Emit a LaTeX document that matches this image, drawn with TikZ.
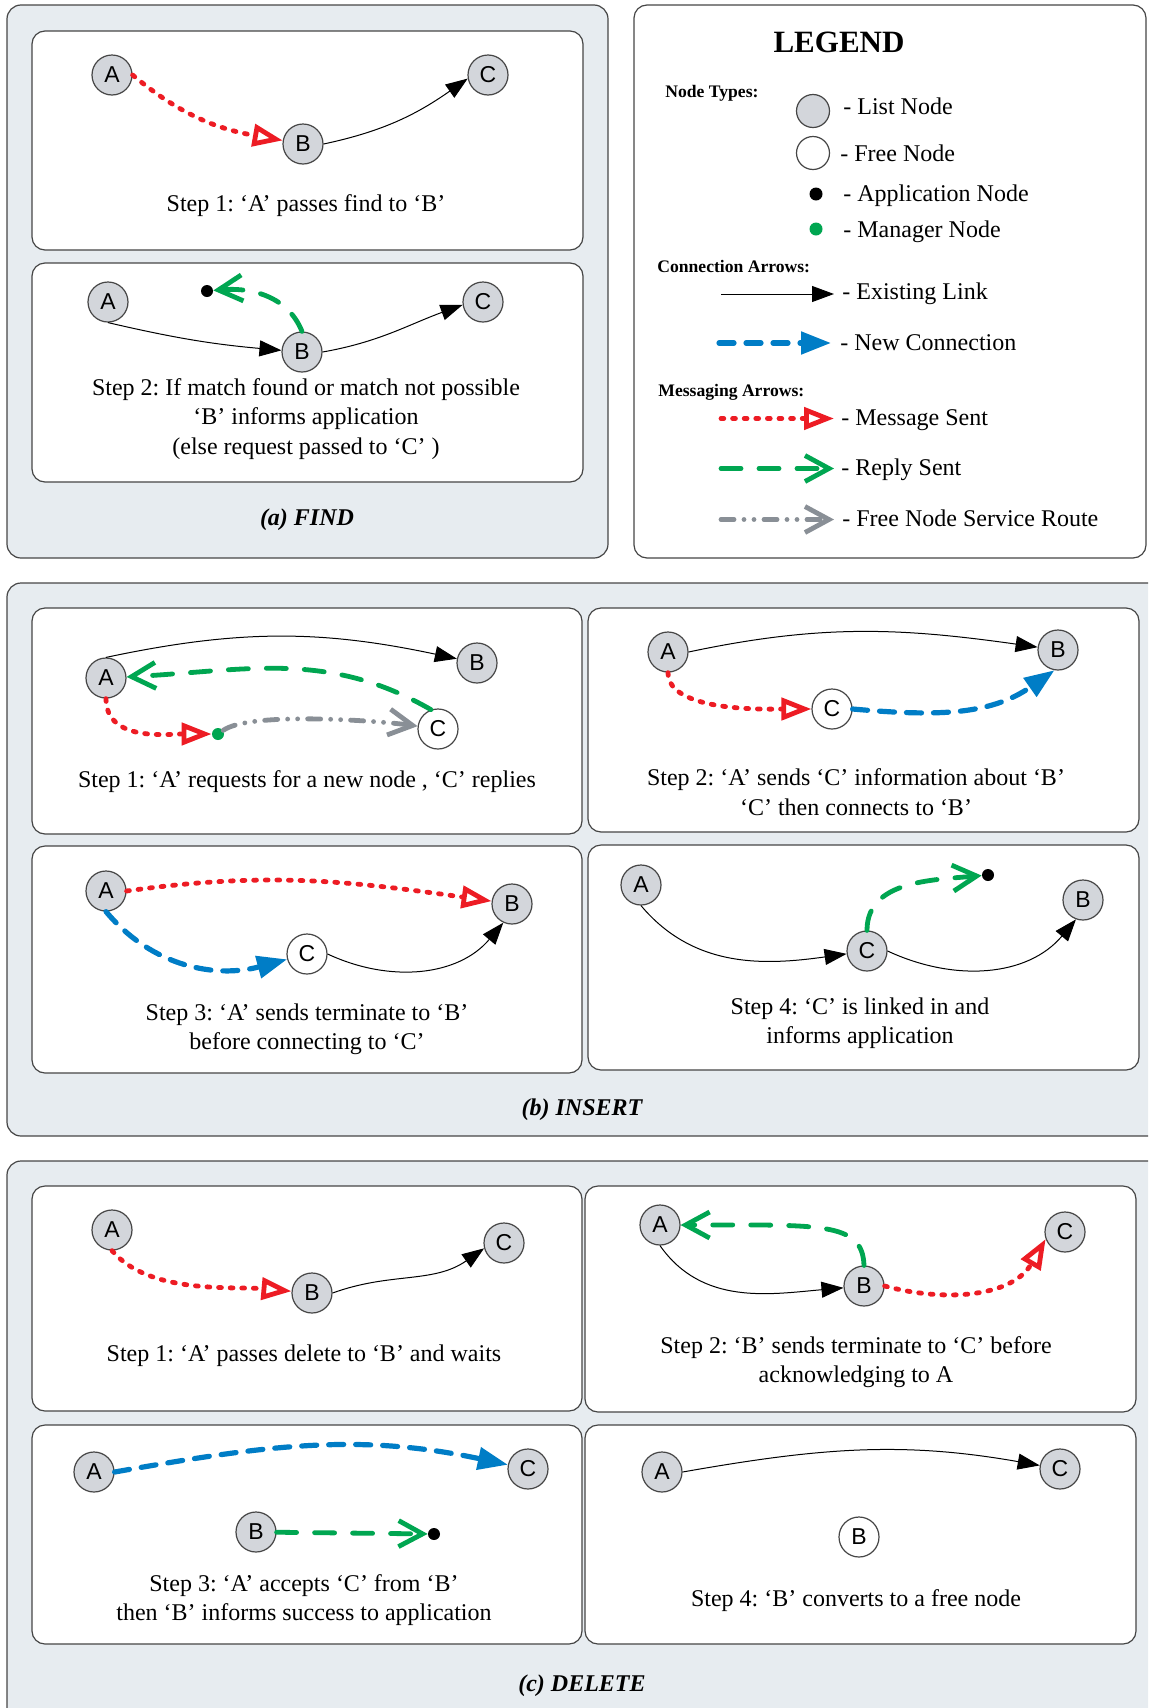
\documentclass[tikz,border=0pt]{standalone}
\usepackage{fontspec}
\setmainfont{Liberation Serif}
\setsansfont{Liberation Sans}
\usepackage{tikz}
\usetikzlibrary{arrows.meta}
\frenchspacing

\definecolor{panelfill}{RGB}{231,236,240}
\definecolor{listfill}{RGB}{211,214,219}
\definecolor{edgegray}{RGB}{70,70,70}
\definecolor{msgred}{RGB}{237,28,36}
\definecolor{replygreen}{RGB}{0,166,81}
\definecolor{connblue}{RGB}{0,125,198}
\definecolor{routegray}{RGB}{137,143,150}

\begin{document}
\begin{tikzpicture}[x=0.5pt,y=0.5pt,
  panel/.style={draw=edgegray,fill=panelfill,line width=0.6pt,rounded corners=7pt},
  step box/.style={draw=edgegray,fill=white,line width=0.6pt,rounded corners=6.5pt},
  list node/.style={circle,draw=edgegray,fill=listfill,line width=0.6pt,minimum size=20pt,inner sep=0pt,font=\sffamily\fontsize{11.5}{13}\selectfont},
  free node/.style={list node,fill=white},
  app node/.style={circle,fill=black,minimum size=6pt,inner sep=0pt},
  mgr node/.style={app node,fill=replygreen},
  step text/.style={align=center,font=\fontsize{12}{14.7}\selectfont},
  part name/.style={font=\bfseries\itshape\fontsize{12}{14}\selectfont},
  key text/.style={anchor=base west,inner sep=0pt,font=\fontsize{12}{14}\selectfont},
  key head/.style={anchor=base west,inner sep=0pt,font=\bfseries\fontsize{8.8}{10}\selectfont},
  old link/.style={draw=black,line width=0.5pt,-{Triangle[length=11pt,width=8pt]}},
  new link/.style={draw=connblue,line width=2.6pt,line cap=round,dash pattern=on 7.5pt off 6pt,-{Triangle[length=15pt,width=11pt]}},
  msg sent/.style={draw=msgred,line width=2.4pt,line cap=round,dash pattern=on 1.4pt off 4.4pt,-{Triangle[open,length=15pt,width=11pt]}},
  reply sent/.style={draw=replygreen,line width=2.4pt,line cap=round,dash pattern=on 10pt off 9pt,-{Straight Barb[length=12pt,width=13pt]}},
  free route/.style={draw=routegray,line width=2.4pt,line cap=round,dash pattern=on 6.5pt off 5pt on 0pt off 5pt on 0pt off 5pt,-{Straight Barb[length=12pt,width=13pt]}}]
  \useasboundingbox (0,0) rectangle (1148,-1708);
  \clip (0,0) rectangle (1148,-1708);

  \draw[panel] (7,-5) rectangle (608,-558);
  \draw[step box] (32,-31) rectangle (583,-250);
  \draw[step box] (32,-263) rectangle (583,-482);
  \node[part name] (fname) at (307,-520) {(a) FIND};

  \node[list node] (fa1) at (112,-75) {A};
  \node[list node] (fb1) at (303,-144) {B};
  \node[list node] (fc1) at (488,-75) {C};
  \node[step text] (ft1) at (306,-206) {Step 1: ‘A’ passes find to ‘B’};
  \path (fa1.east) edge[msg sent,out=-40,in=170] (fb1)
        (fb1.east) edge[old link,out=12,in=215] (fc1.190);

  \node[list node] (fa2) at (108,-302) {A};
  \node[list node] (fb2) at (302,-352) {B};
  \node[list node] (fc2) at (483,-302) {C};
  \node[app node] (ap2) at (207,-291) {};
  \node[step text] (ft2) at (306,-419) {Step 2: If match found or match not possible\\‘B’ informs application\\(else request passed to ‘C’ )};
  \path (fa2.south) edge[old link,bend right=4] (fb2)
        (fb2.east) edge[old link,out=10,in=200] (fc2.188)
        (fb2.north) edge[reply sent,out=112,in=5] (ap2);

  \draw[step box] (634,-5) rectangle (1146,-558);
  \node[font=\bfseries\fontsize{15.5}{18}\selectfont] (ltitle) at (839,-42) {LEGEND};
  \node[key head] (lnodes) at (665,-97.5) {Node Types:};
  \node[list node,minimum size=16.5pt] (klist) at (813,-111) {};
  \node[free node,minimum size=16.5pt] (kfree) at (813,-153) {};
  \node[app node,minimum size=6.5pt] (kapp) at (816,-194) {};
  \node[mgr node,minimum size=6.5pt] (kmgr) at (816,-229) {};
  \node[key text] (tlist) at (843,-114) {- List Node};
  \node[key text] (tfree) at (840,-161) {- Free Node};
  \node[key text] (tapp) at (843,-201.5) {- Application Node};
  \node[key text] (tmgr) at (843,-237) {- Manager Node};
  \node[key head] (lconn) at (657,-272.5) {Connection Arrows:};
  \coordinate (ko1) at (721,-294);
  \coordinate (ki1) at (834,-294);
  \coordinate (ko2) at (719,-343);
  \coordinate (ki2) at (831,-343);
  \draw[old link] (ko1) -- (ki1);
  \draw[new link] (ko2) -- (ki2);
  \node[key text] (texist) at (842,-299) {- Existing Link};
  \node[key text] (tnew) at (840,-350) {- New Connection};
  \node[key head] (lmsg) at (658,-396.5) {Messaging Arrows:};
  \coordinate (ko3) at (721,-418.5);
  \coordinate (ki3) at (834,-418.5);
  \coordinate (ko4) at (721,-468.5);
  \coordinate (ki4) at (834,-468.5);
  \coordinate (ko5) at (721,-519.5);
  \coordinate (ki5) at (834,-519.5);
  \draw[msg sent] (ko3) -- (ki3);
  \draw[reply sent] (ko4) -- (ki4);
  \draw[free route] (ko5) -- (ki5);
  \node[key text] (tmsg) at (841,-425.5) {- Message Sent};
  \node[key text] (treply) at (841,-475.5) {- Reply Sent};
  \node[key text] (troute) at (842,-526.5) {- Free Node Service Route};

  \draw[panel] (7,-583) rectangle (1175,-1136);
  \draw[step box] (32,-608) rectangle (582,-834);
  \draw[step box] (588,-608) rectangle (1139,-832);
  \draw[step box] (32,-846) rectangle (582,-1073);
  \draw[step box] (588,-845) rectangle (1139,-1070);
  \node[part name] (iname) at (582,-1110) {(b) INSERT};

  \node[list node] (ia1) at (106,-678) {A};
  \node[list node] (ib1) at (477,-663) {B};
  \node[free node] (ic1) at (438,-729) {C};
  \node[mgr node] (im1) at (218,-734) {};
  \node[step text] (it1) at (307,-782) {Step 1: ‘A’ requests for a new node , ‘C’ replies};
  \path (ia1.north) edge[old link,out=12,in=168] (ib1)
        (ic1.110) edge[reply sent,out=150,in=3] (ia1)
        (ia1.south) edge[msg sent,out=-90,in=180] (im1)
        (im1) edge[free route,out=35,in=172,looseness=0.45] (ic1);

  \node[list node] (ia2) at (668,-652) {A};
  \node[list node] (ib2) at (1058,-650) {B};
  \node[free node] (ic2) at (832,-709) {C};
  \node[step text] (it2) at (856,-792) {Step 2: ‘A’ sends ‘C’ information about ‘B’\\‘C’ then connects to ‘B’};
  \path (ia2.east) edge[old link,out=12,in=172] (ib2)
        (ia2.south) edge[msg sent,out=-90,in=180,looseness=0.7] (ic2)
        (ic2.east) edge[new link,out=-5,in=215] (ib2.260);

  \node[list node] (ia3) at (106,-891) {A};
  \node[list node] (ib3) at (512,-904) {B};
  \node[free node] (ic3) at (307,-954) {C};
  \node[step text] (it3) at (307,-1029) {Step 3: ‘A’ sends terminate to ‘B’\\before connecting to ‘C’};
  \path (ia3.east) edge[msg sent,out=8,in=172] (ib3)
        (ia3.south) edge[new link,out=-50,in=195] (ic3)
        (ic3.east) edge[old link,out=-25,in=230] (ib3.245);

  \node[list node] (ia4) at (641,-885) {A};
  \node[list node] (ib4) at (1083,-900) {B};
  \node[list node] (ic4) at (867,-951) {C};
  \node[app node] (ap4) at (988,-875) {};
  \node[step text] (it4) at (860,-1023) {Step 4: ‘C’ is linked in and\\informs application};
  \path (ia4.south) edge[old link,out=-50,in=188] (ic4)
        (ic4.east) edge[old link,out=-25,in=230] (ib4.250)
        (ic4.north) edge[reply sent,out=90,in=185] (ap4);

  \draw[panel] (7,-1161) rectangle (1175,-1730);
  \draw[step box] (32,-1186) rectangle (582,-1411);
  \draw[step box] (585,-1186) rectangle (1136,-1412);
  \draw[step box] (32,-1425) rectangle (582,-1644);
  \draw[step box] (585,-1425) rectangle (1136,-1644);
  \node[part name] (dname) at (582,-1686) {(c) DELETE};

  \node[list node] (da1) at (112,-1230) {A};
  \node[list node] (db1) at (312,-1293) {B};
  \node[list node] (dc1) at (504,-1243) {C};
  \node[step text] (dt1) at (304,-1356) {Step 1: ‘A’ passes delete to ‘B’ and waits};
  \path (da1.south) edge[msg sent,out=-50,in=175,looseness=0.8] (db1)
        (db1.east) edge[old link,out=20,in=215] (dc1.195);

  \node[list node] (da2) at (660,-1225) {A};
  \node[list node] (db2) at (864,-1286) {B};
  \node[list node] (dc2) at (1065,-1232) {C};
  \node[step text] (dt2) at (856,-1362) {Step 2: ‘B’ sends terminate to ‘C’ before\\acknowledging to A};
  \path (da2.south) edge[old link,out=-55,in=185] (db2)
        (db2.north) edge[reply sent,out=92,in=0,out distance=22pt,in distance=70pt] (da2)
        (db2.east) edge[msg sent,out=-15,in=240] (dc2.200);

  \node[list node] (da3) at (94,-1472) {A};
  \node[list node] (dc3) at (528,-1469) {C};
  \node[list node] (db3) at (256,-1532) {B};
  \node[app node] (ap3) at (434,-1534) {};
  \node[step text] (dt3) at (304,-1600) {Step 3: ‘A’ accepts ‘C’ from ‘B’\\then ‘B’ informs success to application};
  \path (da3.east) edge[new link,out=10,in=168] (dc3)
        (db3) edge[reply sent] (ap3);

  \node[list node] (da4) at (662,-1472) {A};
  \node[list node] (dc4) at (1060,-1469) {C};
  \node[free node] (db4) at (859,-1537) {B};
  \node[step text] (dt4) at (856,-1601) {Step 4: ‘B’ converts to a free node};
  \path (da4.east) edge[old link,out=10,in=170] (dc4);
\end{tikzpicture}
\end{document}
